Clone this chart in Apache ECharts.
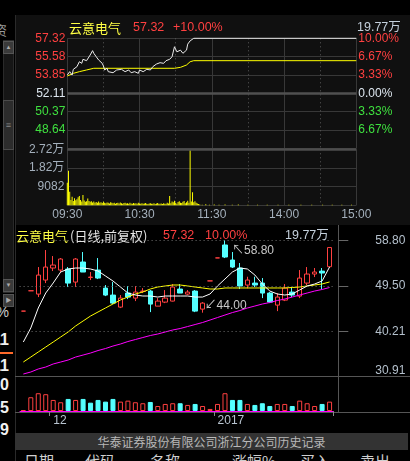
<!DOCTYPE html>
<html><head><meta charset="utf-8">
<script src="https://cdn.jsdelivr.net/npm/echarts@6/dist/echarts.min.js"></script>
<style>
html,body{margin:0;padding:0;background:#000;width:410px;height:461px;overflow:hidden;font-family:'Liberation Sans','Noto Sans CJK SC',sans-serif;}
.abs{position:absolute;}
#bgTop{left:15px;top:15px;width:395px;height:210px;background:#101010;}
#vline{left:15px;top:15px;width:1px;height:446px;background:#2a2a2a;}
#track{left:3px;top:40px;width:11px;height:253px;background:#161616;border:1px solid #2a2a2a;box-sizing:border-box;}
.btn{left:3px;width:11px;height:13px;background:#3a3a3a;border:1px solid #555;box-sizing:border-box;color:#aaa;font-size:6px;line-height:11px;text-align:center;}
#thumb{left:3px;top:100px;width:11px;height:50px;background:#2c2c2c;border:1px solid #4a4a4a;box-sizing:border-box;color:#888;font-size:9px;line-height:48px;text-align:center;}
.frag{color:#f0f0f0;font-size:16px;font-weight:bold;text-align:right;width:30px;left:-21px;line-height:16px;}
#bar{left:15px;top:433px;width:393px;height:17px;background:#333;color:#b8b8b8;font-size:12px;line-height:17px;text-align:center;font-family:'Noto Sans CJK SC',sans-serif;}
.hd{top:452px;color:#cfcfcf;font-size:15px;line-height:18px;font-family:'Noto Sans CJK SC',sans-serif;}
#chart{left:0;top:0;width:410px;height:461px;}
</style></head>
<body>
<div class="abs" id="bgTop"></div>
<div class="abs" id="vline"></div>
<div class="abs" style="left:-6px;top:20px;color:#999;font-size:13px;font-family:'Noto Sans CJK SC';">资</div>
<div class="abs" id="track"></div>
<div class="abs btn" style="top:41px;">▲</div>
<div class="abs" id="thumb">≡</div>
<div class="abs btn" style="top:279px;">▼</div>
<div class="abs btn" style="top:294px;">▶</div>
<div class="abs frag" style="top:304px;font-size:14px;font-weight:normal;color:#ccc;">%</div>
<div class="abs frag" style="top:332px;">11</div>
<div class="abs" style="left:0;top:352px;width:13px;height:2px;background:#ff6a2a;"></div>
<div class="abs frag" style="top:358px;">11</div>
<div class="abs frag" style="top:377px;">00</div>
<div class="abs frag" style="top:400px;">05</div>
<div class="abs frag" style="top:422px;">59</div>
<div class="abs" id="bar">华泰证券股份有限公司浙江分公司历史记录</div>
<div class="abs hd" style="left:24px;">日期</div>
<div class="abs hd" style="left:85px;">代码</div>
<div class="abs hd" style="left:150px;">名称</div>
<div class="abs hd" style="left:232px;">涨幅%</div>
<div class="abs hd" style="left:300px;">买入</div>
<div class="abs hd" style="left:360px;">卖出</div>
<div class="abs" id="chart"></div>
<script>
// ---------- intraday data ----------
const stockName = '云意电气';
const prevClose = 52.11;
const timeTickMinutes = [0, 60, 120, 180, 240];
const timeTickLabels = ['09:30', '10:30', '11:30', '14:00', '15:00'];
const minutePrice = [[0,53.84],[2,54.16],[4,53.84],[5,54.38],[8,54.63],[10,55.10],[12,54.95],[13,55.33],[16,55.20],[19,55.74],[21,56.15],[22,55.90],[24,55.58],[26,55.27],[27,55.33],[29,54.95],[30,54.70],[31,54.32],[33,54.48],[34,54.16],[35,54.32],[38,54.06],[41,54.32],[42,54.16],[45,54.38],[48,54.16],[51,54.32],[53,54.06],[56,54.16],[59,54.00],[60,54.32],[63,54.16],[66,54.38],[69,54.32],[71,54.63],[74,54.88],[77,55.01],[80,54.95],[82,55.20],[85,55.33],[87,55.58],[88,55.52],[89,56.52],[91,56.04],[94,56.20],[96,55.90],[99,56.20],[100,56.77],[102,57.08],[103,57.15],[105,57.32],[240,57.32]];
const minuteAvg = [[0,53.75],[5,54.00],[10,54.16],[16,54.32],[22,54.48],[89,54.48],[94,54.57],[99,54.79],[102,55.10],[105,55.20],[240,55.20]];
const minuteVol = [[0,11000],[1,16800],[2,6600],[3,2600],[4,4200],[5,2100],[6,3400],[7,2500],[8,3000],[9,3900],[10,4500],[11,2600],[12,1900],[13,5000],[14,2300],[15,1700],[16,2000],[17,3300],[18,2100],[19,1700],[20,2000],[21,1400],[22,1900],[23,1300],[24,1600],[25,1200],[26,1800],[27,1300],[28,1500],[29,1100],[30,1700],[31,1200],[32,1000],[33,1400],[34,1300],[35,900],[36,1500],[37,1200],[38,1000],[39,1300],[40,800],[41,1100],[42,1200],[43,900],[44,1400],[45,1000],[46,800],[47,1100],[48,1300],[49,900],[50,1000],[51,700],[52,1200],[53,900],[54,800],[55,1100],[56,900],[57,1000],[58,700],[59,1200],[60,900],[61,800],[62,1000],[63,700],[64,900],[65,1100],[66,800],[67,600],[68,900],[69,1000],[70,700],[71,800],[72,1000],[73,600],[74,900],[75,1100],[76,700],[77,800],[78,900],[79,600],[80,1000],[81,700],[82,800],[83,1300],[84,900],[85,4500],[86,1000],[87,1800],[88,1500],[89,2200],[90,1200],[91,800],[92,1600],[93,2000],[94,1300],[95,1100],[96,1700],[97,2100],[98,1000],[99,1500],[100,2200],[101,1200],[102,26900],[103,1800],[104,6300],[105,1500],[106,2000],[107,1200],[108,900],[109,600],[110,400],[112,300],[115,500],[118,250],[122,400],[126,300],[131,350],[137,250],[142,400],[150,300],[158,250],[166,300],[175,250],[184,300],[194,250],[203,300],[212,250],[220,300],[228,250],[236,300]];
const minuteVolMax = 27246;
const minuteVolStep = 9082;

// ---------- daily (kline) data ----------
const klineDates = ['2016-11-25','2016-11-28','2016-11-29','2016-11-30',
 '2016-12-01','2016-12-02','2016-12-05','2016-12-06','2016-12-07','2016-12-08','2016-12-09','2016-12-12','2016-12-13','2016-12-14','2016-12-15','2016-12-16','2016-12-19','2016-12-20','2016-12-21','2016-12-22','2016-12-23','2016-12-26','2016-12-27','2016-12-28','2016-12-29','2016-12-30',
 '2017-01-03','2017-01-04','2017-01-05','2017-01-06','2017-01-09','2017-01-10','2017-01-11','2017-01-12','2017-01-13','2017-01-16','2017-01-17','2017-01-18','2017-01-19','2017-01-20','2017-01-23','2017-01-24'];
// [open, close, low, high]
const klineOHLC = [[44.32,44.32,44.32,44.32],[48.48,48.48,48.48,48.48],[47.80,51.69,47.19,53.33],[50.67,53.33,50.05,56.81],
 [53.13,53.74,52.51,55.58],[52.72,54.97,52.31,55.17],[52.92,50.05,49.24,53.33],[50.26,54.97,49.24,55.17],[54.36,52.31,52.31,56.40],[51.20,51.28,50.67,52.31],[52.72,51.08,50.87,55.17],[49.03,47.60,47.39,49.65],[47.60,45.96,45.75,50.26],[45.14,46.98,44.94,47.60],[48.01,47.19,46.78,49.44],[46.98,48.21,46.37,49.44],[48.35,48.42,48.01,49.03],[48.42,45.75,44.12,48.62],[45.34,46.37,45.34,46.98],[46.16,46.98,45.96,48.62],[46.37,49.24,46.30,49.85],[48.83,48.01,48.01,49.85],[47.80,48.21,47.60,48.62],[48.42,44.32,44.12,48.62],[44.73,45.96,44.00,46.16],[50.50,50.50,50.50,50.50],
 [55.20,55.20,55.20,55.20],[57.84,55.38,55.17,58.80],[54.77,53.33,53.13,56.40],[53.13,49.44,48.83,54.15],[49.65,50.67,48.97,51.35],[50.05,49.65,49.24,51.35],[50.05,48.01,46.98,51.08],[48.01,46.16,45.96,48.21],[45.55,47.19,44.32,48.00],[46.57,49.03,46.37,49.85],[48.21,47.60,47.19,49.24],[47.39,51.08,46.98,52.72],[50.05,51.90,49.65,53.33],[51.90,52.31,51.28,53.13],[52.50,52.11,48.83,53.13],[53.40,57.32,53.30,57.32]];
// volume, 万手
const klineVolume = [2.1,29.1,37.6,35.5,23.4,18.5,25.5,23.4,25.5,17.6,23.4,19.8,25.5,19.8,21.9,18.5,16.4,19.1,10.6,14.9,16.4,16.4,12.8,14.9,10.6,4.3,14.9,37.6,23.4,23.4,14.9,12.8,16.4,10.6,14.9,14.9,10.6,21.9,16.4,10.6,14.9,19.77];
const maWhite = [38.00,40.87,44.96,48.02,50.07,52.32,52.93,53.13,53.13,52.93,52.52,51.50,50.48,49.25,48.02,47.61,47.41,47.41,47.20,47.41,47.41,47.41,47.41,47.20,47.20,47.82,49.46,50.89,52.32,53.13,52.93,51.70,49.86,48.43,47.82,47.61,47.82,48.64,49.46,49.86,50.48,53.34];
const maYellow = [33.91,34.93,35.96,36.98,38.00,39.03,40.05,41.28,42.30,43.32,44.14,44.96,45.78,46.59,47.21,47.82,48.23,48.84,49.25,49.46,49.66,49.66,49.46,49.25,49.05,48.84,48.84,49.05,49.05,49.05,49.05,49.05,49.05,49.05,49.05,49.05,49.15,49.25,49.46,49.66,49.87,50.28];
const maMagenta = [31.46,31.87,32.49,32.89,33.51,33.91,34.32,34.93,35.34,35.75,36.26,36.67,37.18,37.59,38.10,38.51,38.92,39.33,39.64,40.05,40.46,40.76,41.17,41.58,41.99,42.50,43.01,43.52,44.03,44.44,44.96,45.36,45.77,46.08,46.49,46.79,47.20,47.61,48.02,48.43,48.74,49.15];
const klineAxisMin = 30.91, klineAxisMax = 58.80;
const klineTickLabels = [30.91, 40.21, 49.50, 58.80];

// ---------- styles ----------
const RED = '#ff4040', GREEN = '#3fe03f', CYAN = '#54ffff', GRID = '#383838';
const NUMFONT = "'Liberation Sans','Noto Sans CJK SC',sans-serif";
const CJK = "'Noto Sans CJK SC',sans-serif";

const toThirds = p => (p / prevClose - 1) * 30;
const lastClose = klineOHLC[klineOHLC.length - 1][1];
const lastPct = ((lastClose / prevClose - 1) * 100).toFixed(2);
const lastVol = klineVolume[klineVolume.length - 1].toFixed(2) + '万';

let hiIdx = 0, loIdx = 0;
klineOHLC.forEach((d, i) => { if (d[3] > klineOHLC[hiIdx][3]) hiIdx = i; if (d[2] < klineOHLC[loIdx][2]) loIdx = i; });

const volItems = klineVolume.map((v, i) => {
  const up = i === 0 || klineOHLC[i][1] >= klineOHLC[i - 1][1];
  return { value: v, itemStyle: up ? { color: '#000', borderColor: RED, borderWidth: 1 } : { color: CYAN, borderColor: CYAN, borderWidth: 1 } };
});
const showDateLabel = i => i > 0 && klineDates[i].slice(5, 7) !== klineDates[i - 1].slice(5, 7);
const dateLabel = (v) => { const m = v.slice(5, 7); return m === '01' ? v.slice(0, 4) : String(parseInt(m, 10)); };

const chart = echarts.init(document.getElementById('chart'), null, { renderer: 'canvas' });
const hdrY = 28, kHdrY = 236;
chart.setOption({
  backgroundColor: 'transparent',
  animation: false,
  textStyle: { fontFamily: NUMFONT },
  grid: [
    { left: 67.3, top: 38.3, width: 289, height: 110 },
    { left: 67.3, top: 149.3, width: 289, height: 56 },
    { left: 19.6, top: 240.3, width: 313.7, height: 136.4 },
    { left: 19.6, top: 385, width: 313.7, height: 26 }
  ],
  xAxis: [
    { gridIndex: 0, type: 'value', min: 0, max: 240, interval: 60, axisLine: { show: false }, axisTick: { show: false }, axisLabel: { show: false },
      splitLine: { show: true, lineStyle: { color: GRID } }, minorTick: { show: false, splitNumber: 2 }, minorSplitLine: { show: true, lineStyle: { color: '#5a5a5a', type: [1, 3] } } },
    { gridIndex: 1, type: 'value', min: 0, max: 240, interval: 60, axisLine: { show: false }, axisTick: { show: false },
      axisLabel: { show: true, customValues: timeTickMinutes, formatter: v => timeTickLabels[timeTickMinutes.indexOf(v)], color: '#a4b0bc', fontSize: 12, margin: 3 },
      splitLine: { show: true, lineStyle: { color: GRID } }, minorTick: { show: false, splitNumber: 2 }, minorSplitLine: { show: true, lineStyle: { color: '#5a5a5a', type: [1, 3] } } },
    { gridIndex: 2, type: 'category', data: klineDates, boundaryGap: true, axisLine: { show: false }, axisTick: { show: false }, axisLabel: { show: false }, splitLine: { show: false } },
    { gridIndex: 3, type: 'category', data: klineDates, boundaryGap: true, axisLine: { show: false },
      axisTick: { show: true, interval: i => showDateLabel(i), length: 5, lineStyle: { color: '#888' } },
      axisLabel: { show: true, interval: i => showDateLabel(i), formatter: dateLabel, align: 'left', color: '#b8c4d0', fontSize: 12, margin: 4 },
      splitLine: { show: false } }
  ],
  yAxis: [
    { gridIndex: 0, type: 'value', min: -3, max: 3, interval: 1, position: 'left', axisLine: { show: false }, axisTick: { show: false },
      axisLabel: { showMinLabel: false, margin: 2, fontSize: 12, padding: [7, 0, 0, 0], formatter: v => (prevClose * (1 + v / 30)).toFixed(2), color: v => v > 0 ? RED : v < 0 ? GREEN : '#dde6ef' },
      splitLine: { show: true, lineStyle: { color: GRID } } },
    { gridIndex: 0, type: 'value', min: -3, max: 3, interval: 1, position: 'right', axisLine: { show: false }, axisTick: { show: false },
      axisLabel: { showMinLabel: false, margin: 2, fontSize: 12, padding: [7, 0, 0, 0], formatter: v => (Math.abs(v) * 10 / 3).toFixed(2) + '%', color: v => v > 0 ? RED : v < 0 ? GREEN : '#dde6ef' },
      splitLine: { show: false } },
    { gridIndex: 1, type: 'value', min: 0, max: minuteVolMax, interval: minuteVolStep, position: 'left', axisLine: { show: false }, axisTick: { show: false },
      axisLabel: { showMinLabel: false, margin: 3, fontSize: 12, padding: [7, 0, 0, 0], color: '#a4b0bc', formatter: v => v >= 10000 ? (v / 10000).toFixed(2) + '万' : String(v) },
      splitLine: { show: true, lineStyle: { color: GRID } } },
    { gridIndex: 2, type: 'value', position: 'right', offset: 5, min: klineAxisMin, max: klineAxisMax, axisLine: { show: false },
      axisTick: { show: true, length: 10, customValues: klineTickLabels.slice(1), lineStyle: { color: '#666' } },
      axisLabel: { show: true, customValues: klineTickLabels, formatter: v => v.toFixed(2), color: '#b4c0cc', fontSize: 12, margin: 67, align: 'right', verticalAlignMinLabel: 'bottom' },
      splitLine: { show: false } },
    { gridIndex: 3, type: 'value', min: 0, max: 55, show: false }
  ],
  series: [
    { type: 'line', xAxisIndex: 0, yAxisIndex: 0, data: minutePrice.map(d => [d[0], toThirds(d[1])]), symbol: 'none', clip: false,
      lineStyle: { color: '#ececec', width: 1 }, z: 4,
      markLine: { silent: true, symbol: ['none', 'none'], label: { show: false }, lineStyle: { color: '#505050', width: 2.5, type: 'solid' }, data: [{ yAxis: 0 }] } },
    { type: 'line', xAxisIndex: 0, yAxisIndex: 0, data: minuteAvg.map(d => [d[0], toThirds(d[1])]), symbol: 'none', lineStyle: { color: '#ffff00', width: 1 }, z: 3 },
    { type: 'bar', xAxisIndex: 1, yAxisIndex: 2, data: minuteVol, barWidth: 1, itemStyle: { color: '#ffff00' },
      markLine: { silent: true, symbol: ['none', 'none'], label: { show: false }, lineStyle: { color: '#4d4d4d', width: 2.5, type: 'solid' }, data: [{ yAxis: minuteVolMax }] } },
    { type: 'candlestick', xAxisIndex: 2, yAxisIndex: 3, data: klineOHLC, barWidth: 5,
      itemStyle: { color: '#000', color0: CYAN, borderColor: RED, borderColor0: CYAN, borderColorDoji: RED, borderWidth: 1 },
      markLine: { silent: true, symbol: ['none', 'none'], label: { show: false }, lineStyle: { color: '#707070', width: 1, type: [1, 3] },
        data: klineTickLabels.slice(1).map(v => ({ yAxis: v })) },
      markPoint: { silent: true, symbol: 'circle', symbolSize: 0,
        data: [
          { coord: [hiIdx, klineOHLC[hiIdx][3]], label: { show: true, position: 'right', distance: 7, offset: [0, 10], color: '#c8c8c8', fontSize: 12, formatter: '↖' + klineOHLC[hiIdx][3].toFixed(2) } },
          { coord: [loIdx, klineOHLC[loIdx][2]], label: { show: true, position: 'right', distance: 2, offset: [0, -7], color: '#c8c8c8', fontSize: 12, formatter: '↙' + klineOHLC[loIdx][2].toFixed(2) } }
        ] } },
    { type: 'line', xAxisIndex: 2, yAxisIndex: 3, data: maMagenta, symbol: 'none', lineStyle: { color: '#ff00ff', width: 1 } },
    { type: 'line', xAxisIndex: 2, yAxisIndex: 3, data: maYellow, symbol: 'none', lineStyle: { color: '#ffff00', width: 1 } },
    { type: 'line', xAxisIndex: 2, yAxisIndex: 3, data: maWhite, symbol: 'none', lineStyle: { color: '#ffffff', width: 1 } },
    { type: 'bar', xAxisIndex: 3, yAxisIndex: 4, data: volItems, barWidth: 5,
      markLine: { silent: true, symbol: ['none', 'none'], label: { show: false }, lineStyle: { color: '#ff00ff', width: 1, type: 'solid' }, data: [{ yAxis: 0 }] } }
  ],
  graphic: [
    { type: 'text', x: 69, y: hdrY, style: { text: stockName, fill: '#ffff44', font: '13px ' + CJK, verticalAlign: 'middle' } },
    { type: 'text', x: 133, y: hdrY, style: { text: lastClose.toFixed(2), fill: RED, font: '12.5px ' + NUMFONT, verticalAlign: 'middle' } },
    { type: 'text', x: 173, y: hdrY, style: { text: '+' + lastPct + '%', fill: RED, font: '12.5px ' + NUMFONT, verticalAlign: 'middle' } },
    { type: 'text', x: 357, y: hdrY, style: { text: lastVol, fill: '#c4d0dc', font: '12.5px ' + NUMFONT, verticalAlign: 'middle' } },
    { type: 'text', x: 16, y: kHdrY, style: { text: stockName, fill: '#ffff44', font: '13px ' + CJK, verticalAlign: 'middle' } },
    { type: 'text', x: 70, y: kHdrY, style: { text: '(日线,前复权)', fill: '#e4e4e4', font: '13px ' + CJK, verticalAlign: 'middle' } },
    { type: 'text', x: 163, y: kHdrY, style: { text: lastClose.toFixed(2), fill: RED, font: '12.5px ' + NUMFONT, verticalAlign: 'middle' } },
    { type: 'text', x: 205, y: kHdrY, style: { text: lastPct + '%', fill: RED, font: '12.5px ' + NUMFONT, verticalAlign: 'middle' } },
    { type: 'text', x: 285, y: kHdrY, style: { text: lastVol, fill: '#c4d0dc', font: '12.5px ' + NUMFONT, verticalAlign: 'middle' } },
    { type: 'line', shape: { x1: 15, y1: 376.5, x2: 410, y2: 376.5 }, style: { stroke: '#555', lineWidth: 1 } },
    { type: 'line', shape: { x1: 15, y1: 412.5, x2: 410, y2: 412.5 }, style: { stroke: '#555', lineWidth: 1 } },
    { type: 'line', shape: { x1: 338.5, y1: 225, x2: 338.5, y2: 413 }, style: { stroke: '#555', lineWidth: 1 } }
  ]
});
</script>
</body></html>
